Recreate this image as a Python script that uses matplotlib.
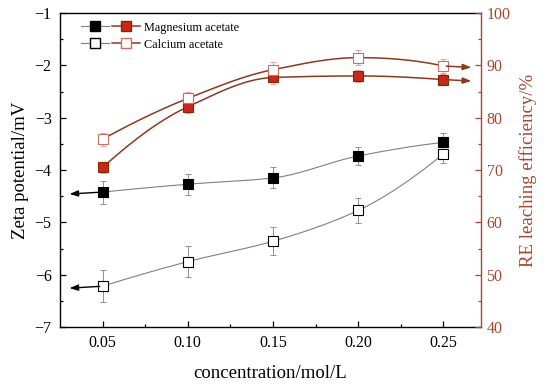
import numpy as np
import matplotlib
matplotlib.use("Agg")
import matplotlib.pyplot as plt
from matplotlib.legend_handler import HandlerTuple
from matplotlib.lines import Line2D

plt.rcParams['font.family'] = ['Liberation Serif', 'DejaVu Serif']

conc = [0.05, 0.10, 0.15, 0.20, 0.25]
zeta_mg = [-4.42, -4.27, -4.15, -3.73, -3.47]
zeta_mg_err = [0.22, 0.20, 0.20, 0.18, 0.17]
zeta_ca = [-6.22, -5.75, -5.36, -4.77, -3.69]
zeta_ca_err = [0.31, 0.29, 0.27, 0.24, 0.18]
re_mg = [70.5, 82.1, 87.7, 88.0, 87.3]
re_mg_err = [1.0, 1.2, 1.3, 1.2, 1.1]
re_ca = [75.9, 83.7, 89.2, 91.5, 89.9]
re_ca_err = [1.2, 1.2, 1.5, 1.5, 1.3]
labels = ["Magnesium acetate", "Calcium acetate"]

RED = "#A8452C"
LINE_RE = "#8B3A1E"


def smooth(x, y, n=200):
    """Shape-preserving (PCHIP) curve through the data points."""
    x = np.asarray(x, float); y = np.asarray(y, float)
    h = np.diff(x); delta = np.diff(y) / h
    m = len(x); d = np.zeros(m)
    for k in range(1, m - 1):
        if delta[k - 1] * delta[k] > 0:
            w1 = 2 * h[k] + h[k - 1]; w2 = h[k] + 2 * h[k - 1]
            d[k] = (w1 + w2) / (w1 / delta[k - 1] + w2 / delta[k])
    d[0] = ((2 * h[0] + h[1]) * delta[0] - h[0] * delta[1]) / (h[0] + h[1])
    if np.sign(d[0]) != np.sign(delta[0]):
        d[0] = 0
    d[-1] = ((2 * h[-1] + h[-2]) * delta[-1] - h[-1] * delta[-2]) / (h[-1] + h[-2])
    if np.sign(d[-1]) != np.sign(delta[-1]):
        d[-1] = 0
    xs = np.linspace(x[0], x[-1], n); ys = np.empty_like(xs)
    for j, xv in enumerate(xs):
        i = min(np.searchsorted(x, xv, side='right') - 1, m - 2)
        t = (xv - x[i]) / h[i]
        h00 = 2 * t**3 - 3 * t**2 + 1; h10 = t**3 - 2 * t**2 + t
        h01 = -2 * t**3 + 3 * t**2; h11 = t**3 - t**2
        ys[j] = h00 * y[i] + h10 * h[i] * d[i] + h01 * y[i + 1] + h11 * h[i] * d[i + 1]
    return xs, ys


fig = plt.figure(figsize=(5.5, 3.87), dpi=100)
ax = fig.add_axes([0.109, 0.155, 0.7655, 0.811])
ax2 = ax.twinx()

ms = 6.8
# zeta
for vals, err, face in [(zeta_mg, zeta_mg_err, 'black'), (zeta_ca, zeta_ca_err, 'white')]:
    xs, ys = smooth(conc, vals)
    ax.plot(xs, ys, color='#808080', lw=0.8, zorder=2)
    ax.errorbar(conc, vals, yerr=err, fmt='none', ecolor='#909090', elinewidth=0.7,
                capsize=2.5, capthick=0.7, zorder=3)
    ax.plot(conc, vals, ls='none', marker='s', ms=ms, mfc=face, mec='black', mew=0.8, zorder=4)
    ax.annotate('', xy=(0.029, vals[0] - 0.04), xytext=(conc[0], vals[0]),
                arrowprops=dict(arrowstyle='-|>,head_length=0.5,head_width=0.18', color='black', lw=1.0),
                zorder=5)

# RE
for vals, err, face, edge in [(re_mg, re_mg_err, '#C8281A', '#8B2500'),
                              (re_ca, re_ca_err, 'white', '#C87060')]:
    xs, ys = smooth(conc, vals)
    ax2.plot(xs, ys, color=LINE_RE, lw=1.1, zorder=2)
    ax2.errorbar(conc, vals, yerr=err, fmt='none', ecolor='#E8A0A0', elinewidth=0.7,
                 capsize=2.5, capthick=0.7, zorder=3)
    ax2.plot(conc, vals, ls='none', marker='s', ms=ms, mfc=face, mec=edge, mew=0.8, zorder=4)
    ax2.annotate('', xy=(0.268, vals[-1] - 0.3), xytext=(conc[-1], vals[-1]),
                 arrowprops=dict(arrowstyle='-|>,head_length=0.5,head_width=0.18', color=LINE_RE, lw=1.1),
                 zorder=5)

ax.set_xlim(0.025, 0.272)
ax.set_ylim(-7, -1)
ax2.set_ylim(40, 100)
ax.set_xticks(conc)
ax.set_xticklabels([f"{v:.2f}" for v in conc])
ax.set_xticks([0.075, 0.125, 0.175, 0.225], minor=True)
ax.set_yticks(range(-7, 0))
ax.set_yticklabels([f"\u2212{abs(v)}" for v in range(-7, 0)])
ax.set_yticks(np.arange(-6.5, -1, 1.0), minor=True)
ax2.set_yticks(range(40, 101, 10))
ax2.set_yticks(range(45, 100, 10), minor=True)

ax.tick_params(axis='both', which='major', direction='in', length=4, width=0.9, labelsize=11.5, pad=6)
ax.tick_params(axis='both', which='minor', direction='in', length=2.5, width=0.9)
ax.tick_params(axis='y', right=False, which='both')
ax2.tick_params(axis='y', which='major', direction='in', length=4, width=0.9, labelsize=11.5,
                colors=RED, pad=4)
ax2.tick_params(axis='y', which='minor', direction='in', length=2.5, width=0.9, colors=RED)

for s in ['left', 'bottom', 'top']:
    ax.spines[s].set_linewidth(1.0)
ax.spines['right'].set_visible(False)
ax2.spines['right'].set_color(RED)
ax2.spines['right'].set_linewidth(1.0)
for s in ['left', 'bottom', 'top']:
    ax2.spines[s].set_visible(False)

ax.set_xlabel("concentration/mol/L", fontsize=13.5, labelpad=10)
ax.set_ylabel("Zeta potential/mV", fontsize=13.5, labelpad=4)
ax2.set_ylabel("RE leaching efficiency/%", fontsize=13.5, color=RED, labelpad=6)

h_mg = (Line2D([], [], color='#808080', lw=0.8, marker='s', ms=ms, mfc='black', mec='black'),
        Line2D([], [], color=LINE_RE, lw=1.1, marker='s', ms=ms, mfc='#C8281A', mec='#8B2500'))
h_ca = (Line2D([], [], color='#808080', lw=0.8, marker='s', ms=ms, mfc='white', mec='black'),
        Line2D([], [], color=LINE_RE, lw=1.1, marker='s', ms=ms, mfc='white', mec='#C87060'))
ax.legend([h_mg, h_ca], labels, handler_map={tuple: HandlerTuple(ndivide=None, pad=0.2)},
          loc='upper left', bbox_to_anchor=(0.03, 1.0), frameon=False, fontsize=8.8,
          handlelength=4.8, handletextpad=0.35, labelspacing=0.4, borderaxespad=0.3)

fig.savefig("out.png", dpi=100)
